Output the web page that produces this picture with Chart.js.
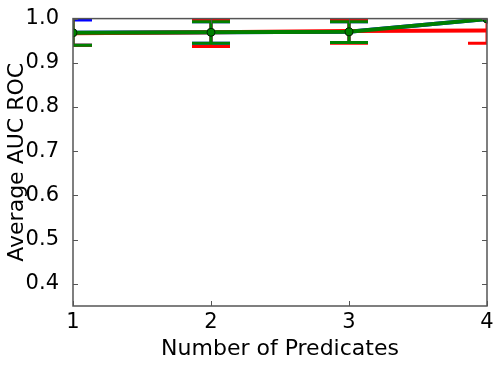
<!DOCTYPE html>
<html>
<head>
<meta charset="utf-8">
<script src="https://cdn.jsdelivr.net/npm/chart.js@4/dist/chart.umd.min.js"></script>
<style>
  html, body { margin: 0; padding: 0; background: #fff; }
  #wrap { width: 500px; height: 366px; }
</style>
</head>
<body>
<div id="wrap"><canvas id="auc"></canvas></div>
<script>
// Datos
const predicates = [1, 2, 3, 4];
const yTicks = [0.4, 0.5, 0.6, 0.7, 0.8, 0.9, 1.0];

const redMean = [0.967, 0.969, 0.972, 0.973];
const redLow = [0.940, 0.937, 0.944, 0.944];
const redHigh = [1.003, 0.996, 0.996, 1.003];

const greenMean = [0.968, 0.969, 0.970, 0.999];
const greenLow = [0.940, 0.944, 0.946, 0.998];
const greenHigh = [1.003, 0.993, 0.993, 1.000];

const blueMean = [0.968, 0.969, 0.970, 0.999];
const blueLow = [0.940, 0.944, 0.946, 0.998];
const blueHigh = [0.997, 0.993, 0.993, 1.000];

function points(values) {
    return predicates.map((x, i) => ({ x: x, y: values[i] }));
}

function series(label, color, mean, low, high, order, marker) {
    return {
        label: label,
        data: points(mean),
        errLow: low,
        errHigh: high,
        borderColor: color,
        backgroundColor: color,
        borderWidth: 4,
        pointRadius: marker ? 4 : 0,
        pointBackgroundColor: color,
        pointBorderColor: "#002200",
        pointBorderWidth: 1,
        tension: 0,
        order: order
    };
}

// Barras de error dibujadas con las escalas del gráfico, bajo cada línea
const errorBars = {
    id: "errorBars",
    beforeDatasetDraw(chart, args) {
        const ds = chart.data.datasets[args.index];
        const xs = chart.scales.x, ys = chart.scales.y;
        const area = chart.chartArea;
        const ctx = chart.ctx;
        ctx.save();
        ctx.beginPath();
        ctx.rect(area.left, area.top, area.right - area.left, area.bottom - area.top);
        ctx.clip();
        ctx.strokeStyle = ds.borderColor;
        ctx.lineWidth = 3;
        predicates.forEach((x, i) => {
            const px = xs.getPixelForValue(x);
            const lo = ys.getPixelForValue(ds.errLow[i]);
            const hi = ys.getPixelForValue(ds.errHigh[i]);
            ctx.beginPath();
            ctx.moveTo(px, lo); ctx.lineTo(px, hi);
            ctx.moveTo(px - 19, lo); ctx.lineTo(px + 19, lo);
            ctx.moveTo(px - 19, hi); ctx.lineTo(px + 19, hi);
            ctx.stroke();
        });
        ctx.restore();
    }
};

// Marco completo y marcas hacia dentro, estilo matplotlib
const frameTicks = {
    id: "frameTicks",
    afterDraw(chart) {
        const a = chart.chartArea;
        const ctx = chart.ctx;
        const xs = chart.scales.x, ys = chart.scales.y;
        ctx.save();
        ctx.strokeStyle = "#555";
        ctx.lineWidth = 1.5;
        ctx.strokeRect(a.left, a.top, a.right - a.left, a.bottom - a.top);
        ctx.lineWidth = 1;
        ctx.beginPath();
        yTicks.forEach(v => {
            const py = Math.round(ys.getPixelForValue(v)) + 0.5;
            ctx.moveTo(a.left, py); ctx.lineTo(a.left + 5, py);
            ctx.moveTo(a.right, py); ctx.lineTo(a.right - 5, py);
        });
        predicates.forEach(v => {
            const px = Math.round(xs.getPixelForValue(v)) + 0.5;
            ctx.moveTo(px, a.bottom); ctx.lineTo(px, a.bottom - 5);
            ctx.moveTo(px, a.top); ctx.lineTo(px, a.top + 5);
        });
        ctx.stroke();
        ctx.restore();
    }
};

const tickFont = { family: "'DejaVu Sans', sans-serif", size: 21 };
const titleFont = { family: "'DejaVu Sans', sans-serif", size: 22 };

new Chart(document.getElementById("auc"), {
    type: "line",
    data: {
        datasets: [
            series("green", "#008000", greenMean, greenLow, greenHigh, 0, true),
            series("red", "#ff0000", redMean, redLow, redHigh, 1, false),
            series("blue", "#0000ff", blueMean, blueLow, blueHigh, 2, false)
        ]
    },
    options: {
        responsive: true,
        maintainAspectRatio: false,
        animation: false,
        layout: { padding: { top: 17, right: 13, left: 0, bottom: 0 } },
        plugins: { legend: { display: false }, tooltip: { enabled: false } },
        scales: {
            x: {
                type: "linear",
                min: 1,
                max: 4,
                afterFit(scale) { scale.height = 60; },
                afterBuildTicks(scale) { scale.ticks = predicates.map(v => ({ value: v })); },
                grid: { display: false },
                border: { display: false },
                ticks: { color: "#000", font: tickFont, padding: -4, maxRotation: 0 },
                title: { display: true, text: "Number of Predicates", color: "#000", font: titleFont, padding: { top: 0 } }
            },
            y: {
                min: 0.35,
                max: 1.0,
                afterFit(scale) { scale.width = 73; },
                afterBuildTicks(scale) { scale.ticks = yTicks.map(v => ({ value: v })); },
                grid: { display: false },
                border: { display: false },
                ticks: { color: "#000", font: tickFont, padding: 6, callback: v => v.toFixed(1) },
                title: { display: true, text: "Average AUC ROC", color: "#000", font: titleFont, padding: { bottom: 0 } }
            }
        }
    },
    plugins: [errorBars, frameTicks]
});
</script>
</body>
</html>
